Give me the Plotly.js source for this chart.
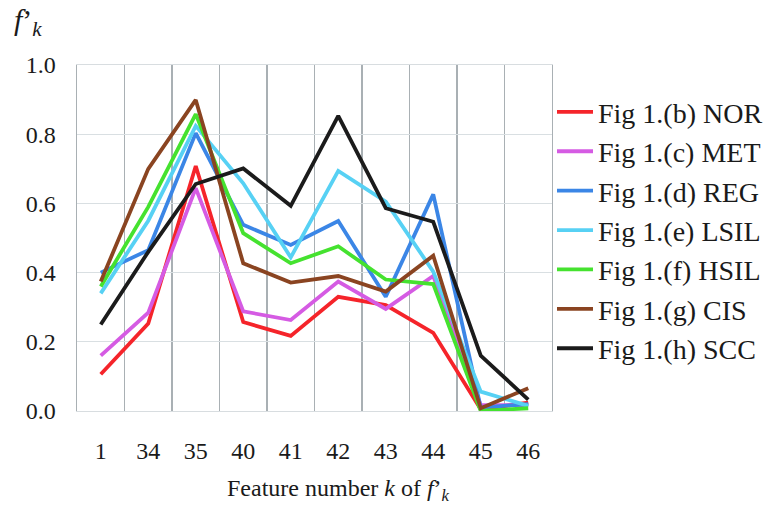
<!DOCTYPE html>
<html>
<head>
<meta charset="utf-8">
<script src="https://cdn.plot.ly/plotly-3.0.1.min.js"></script>
<style>
  body { margin: 0; background: #fff; }
  #chart { width: 780px; height: 514px; }
</style>
</head>
<body>
<div id="chart"></div>
<script>
// feature numbers k
var features = ['1', '34', '35', '40', '41', '42', '43', '44', '45', '46'];

var names = ['Fig 1.(b) NOR', 'Fig 1.(c) MET', 'Fig 1.(d) REG', 'Fig 1.(e) LSIL',
             'Fig 1.(f) HSIL', 'Fig 1.(g) CIS', 'Fig 1.(h) SCC'];

var nor  = [0.106, 0.253, 0.708, 0.257, 0.217, 0.330, 0.306, 0.226, 0.005, 0.024];
var met  = [0.160, 0.284, 0.644, 0.288, 0.263, 0.374, 0.295, 0.390, 0.017, 0.017];
var reg  = [0.400, 0.465, 0.803, 0.538, 0.480, 0.549, 0.330, 0.626, 0.010, 0.020];
var lsil = [0.340, 0.550, 0.824, 0.658, 0.444, 0.694, 0.605, 0.403, 0.056, 0.015];
var hsil = [0.360, 0.590, 0.858, 0.514, 0.427, 0.476, 0.380, 0.367, 0.000, 0.008];
var cis  = [0.374, 0.700, 0.899, 0.427, 0.371, 0.390, 0.345, 0.449, 0.008, 0.066];
var scc  = [0.250, 0.460, 0.656, 0.701, 0.593, 0.853, 0.586, 0.547, 0.160, 0.033];

var colors = ['#f5242a', '#d55be3', '#3b86e6', '#57d1f4', '#45e22f', '#8a4421', '#1b1b1b'];

var series = [nor, met, reg, lsil, hsil, cis, scc];

// category positions on a linear axis, so the grid can sit between categories
var pos = features.map(function (f, i) { return i; });

var data = series.map(function (ys, i) {
  return {
    x: pos,
    y: ys,
    name: names[i],
    legendgroup: 'g' + i,
    type: 'scatter',
    mode: 'lines',
    line: {color: colors[i], width: 3.8}
  };
});

var serif = '"Liberation Serif", "Times New Roman", serif';
function f(size) { return {family: serif, size: size, color: '#1a1a1a'}; }

var layout = {
  width: 780,
  height: 514,
  paper_bgcolor: '#fff',
  plot_bgcolor: '#fff',
  margin: {l: 77, r: 228, t: 65, b: 103},
  font: f(24),
  showlegend: true,
  legend: {
    x: 1.0, xanchor: 'left',
    y: 0.936, yanchor: 'top',
    font: f(28),
    tracegroupgap: 0,
    itemwidth: 36,
    bgcolor: 'rgba(0,0,0,0)'
  },
  xaxis: {
    range: [-0.5, features.length - 0.5],
    tickvals: pos,
    ticktext: features,
    tickfont: f(24),
    showgrid: false,
    minor: {tick0: -0.5, dtick: 1, showgrid: true, gridcolor: '#a9b0b4', gridwidth: 1.4, ticks: ''},
    showline: true,
    linecolor: '#d8dde0',
    mirror: true,
    ticks: '',
    ticklabelstandoff: 18,
    zeroline: false
  },
  yaxis: {
    range: [0, 1.0],
    dtick: 0.2,
    tickformat: '.1f',
    tickfont: f(24),
    showgrid: true,
    gridcolor: '#d9dfe2',
    gridwidth: 1.3,
    showline: true,
    linecolor: '#a9b0b4',
    linewidth: 1.4,
    mirror: true,
    ticks: '',
    ticklabelstandoff: 15,
    zeroline: false
  },
  annotations: [{
    // y-axis title, top left
    text: '<i>f</i>’<sub><i>k</i></sub>',
    xref: 'paper', yref: 'paper',
    x: -0.137, xanchor: 'left',
    y: 1.185, yanchor: 'top',
    showarrow: false,
    font: f(30)
  }, {
    // x-axis title
    text: 'Feature number <i>k</i> of <i>f</i>’<sub><i>k</i></sub>',
    xref: 'paper', yref: 'paper',
    x: 0.551, xanchor: 'center',
    y: -0.228, yanchor: 'middle',
    showarrow: false,
    font: f(24)
  }]
};

Plotly.newPlot('chart', data, layout, {displayModeBar: false, staticPlot: true});
</script>
</body>
</html>
